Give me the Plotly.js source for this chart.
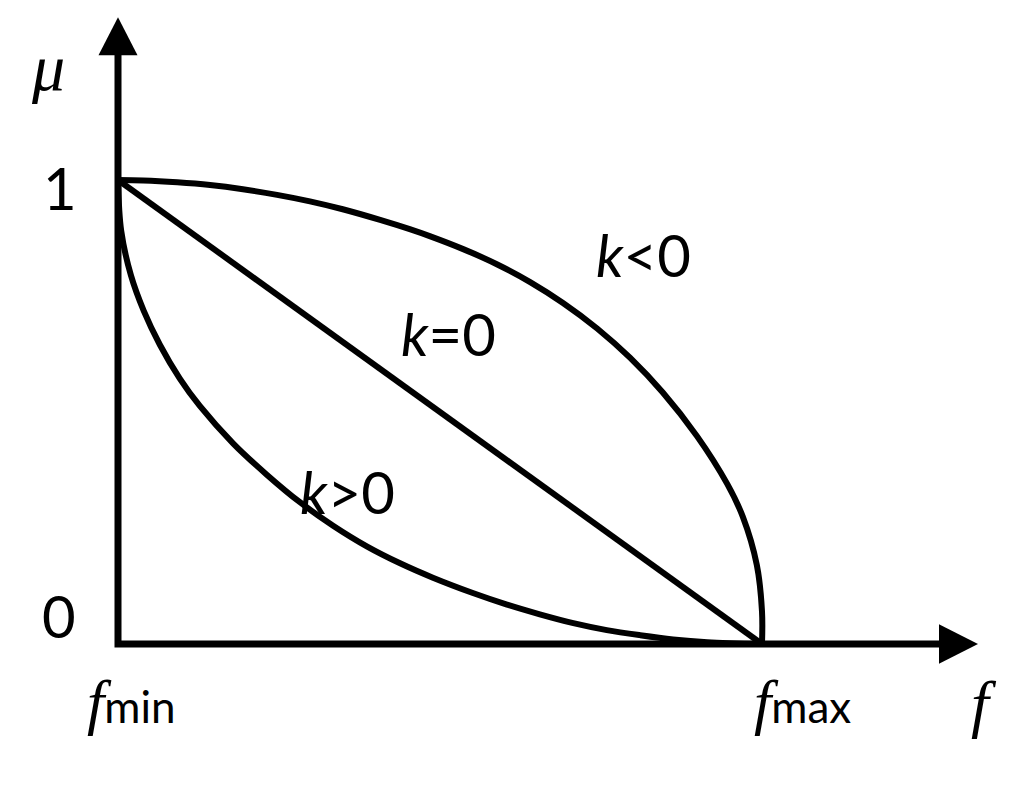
<!DOCTYPE html>
<html>
<head>
<meta charset="utf-8">
<script src="https://cdn.plot.ly/plotly-3.0.1.min.js"></script>
<style>html,body{margin:0;padding:0;background:#fff;}#chart{width:1024px;height:787px;}</style>
</head>
<body>
<div id="chart"></div>
<script>
// Normalised frequency f (0 = f_min, 1 = f_max) and membership mu
const kNegF  = [0, 0.039, 0.092, 0.143, 0.194, 0.247, 0.298, 0.349, 0.407, 0.453, 0.484, 0.536, 0.589, 0.640, 0.691, 0.744, 0.795, 0.846, 0.899, 0.946, 0.970, 0.992, 1.0, 1.0];
const kNegMu = [1, 0.999, 0.995, 0.989, 0.980, 0.968, 0.954, 0.937, 0.914, 0.894, 0.879, 0.851, 0.818, 0.780, 0.735, 0.680, 0.617, 0.542, 0.448, 0.345, 0.275, 0.170, 0.070, 0];

const kZeroF  = [0, 1];
const kZeroMu = [1, 0];

const kPosF  = [0, 0.005, 0.020, 0.040, 0.065, 0.096, 0.127, 0.179, 0.231, 0.283, 0.334, 0.387, 0.438, 0.489, 0.551, 0.604, 0.655, 0.707, 0.759, 0.811, 0.862, 0.915, 1.0];
const kPosMu = [1, 0.890, 0.795, 0.718, 0.645, 0.572, 0.513, 0.432, 0.365, 0.305, 0.255, 0.210, 0.174, 0.143, 0.110, 0.085, 0.064, 0.045, 0.030, 0.019, 0.010, 0.004, 0];

const curveLabels = ["<i>k</i>&lt;0", "<i>k</i>=0", "<i>k</i>&gt;0"];
const yTickLabels = ["0", "1"];

const W = 1024, H = 787;
const X0 = 118, XS = 644;   // pixel of f_min, pixels per unit f
const Y0 = 644, YS = 464;   // pixel of mu=0, pixels per unit mu

const lineStyle = {color: "#000", width: 6, shape: "spline", smoothing: 1};
const traces = [
  {x: kNegF, y: kNegMu, mode: "lines", line: lineStyle, hoverinfo: "skip"},
  {x: kZeroF, y: kZeroMu, mode: "lines", line: {color: "#000", width: 6}, hoverinfo: "skip"},
  {x: kPosF, y: kPosMu, mode: "lines", line: lineStyle, hoverinfo: "skip"}
];

function px(p){ return p / W; }
function py(p){ return 1 - p / H; }
const sans = "Lato, 'Open Sans', sans-serif";
const serif = "'Liberation Serif', 'DejaVu Serif', serif";

function ann(text, x, y, size, family){
  return {text: text, xref: "paper", yref: "paper", x: px(x), y: py(y),
          xanchor: "center", yanchor: "middle", showarrow: false,
          font: {family: family || sans, size: size, color: "#000"}};
}

const fSpan = '<span style="font-family:Liberation Serif;font-style:italic;font-size:62px">f</span>';

const annotations = [
  ann("<i>μ</i>", 48, 68, 66, serif),
  ann(yTickLabels[1], 60, 188, 58),
  ann(yTickLabels[0], 59, 615, 58),
  ann(fSpan + "min", 131, 702, 44),
  ann(fSpan + "max", 802, 702, 44),
  ann("<i>f</i>", 984, 703, 64, serif),
  ann(curveLabels[0], 643, 255, 58),
  ann(curveLabels[1], 448, 333, 58),
  ann(curveLabels[2], 347, 491, 58)
];

const shapes = [
  {type: "path", xref: "x", yref: "y", path: "M0,1.28 L0,0 L1.28,0",
   line: {color: "#000", width: 7}},
  {type: "path", xref: "x", yref: "y", path: "M-0.0303,1.269 L0.0303,1.269 L0,1.351 Z",
   fillcolor: "#000", line: {width: 0}},
  {type: "path", xref: "x", yref: "y", path: "M1.2748,0.0425 L1.2748,-0.0425 L1.3354,0 Z",
   fillcolor: "#000", line: {width: 0}}
];

const hiddenAxis = {visible: false, showgrid: false, zeroline: false, fixedrange: true};
const layout = {
  width: W, height: H,
  margin: {l: 0, r: 0, t: 0, b: 0},
  paper_bgcolor: "#fff", plot_bgcolor: "#fff",
  showlegend: false,
  xaxis: Object.assign({range: [-X0 / XS, (W - X0) / XS]}, hiddenAxis),
  yaxis: Object.assign({range: [(Y0 - H) / YS, Y0 / YS]}, hiddenAxis),
  shapes: shapes,
  annotations: annotations
};

Plotly.newPlot("chart", traces, layout, {displayModeBar: false, staticPlot: true});
</script>
</body>
</html>
